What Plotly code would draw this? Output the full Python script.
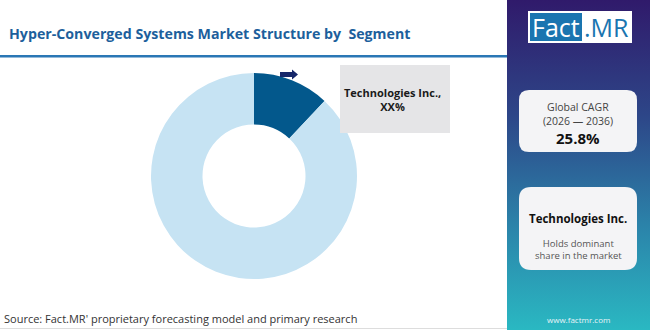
import plotly.graph_objects as go

# ---- data ----
segments = ["Technologies Inc.", "Others"]
shares = [12, 88]
slice_colors = ["#03588c", "#c6e3f3"]
title_text = "Hyper-Converged Systems Market Structure by  Segment"
source_text = "Source: Fact.MR' proprietary forecasting model and primary research"
callout_text = "Technologies Inc.,<br>XX%"
cagr_label = "Global CAGR"
cagr_period = "(2026 \u2014 2036)"
cagr_value = "25.8%"
leader_name = "Technologies Inc."
leader_desc = "Holds dominant<br>share in the market"

W, H = 650, 330
FONT = "Open Sans"

fig = go.Figure()

# gradient side panel
fig.add_trace(go.Scatter(
    x=[507, 650, 650, 507, 507], y=[0, 0, 330, 330, 0],
    mode="lines", line=dict(width=0), fill="toself",
    fillgradient=dict(type="vertical",
                      colorscale=[[0, "#2ab8c2"], [0.3, "#2b86ab"], [0.65, "#2d4688"], [1, "#301a6b"]]),
    hoverinfo="skip", showlegend=False,
))

# donut
fig.add_trace(go.Pie(
    labels=segments, values=shares, hole=0.5, sort=False, direction="clockwise",
    rotation=0, marker=dict(colors=slice_colors, line=dict(width=0)),
    textinfo="none", hoverinfo="label+percent", showlegend=False,
    domain=dict(x=[(254 - 103) / W, (254 + 103) / W], y=[1 - (176 + 103) / H, 1 - (176 - 103) / H]),
))

def rrect(x0, y0, x1, y1, r):
    return (f"M{x0+r},{y0} L{x1-r},{y0} Q{x1},{y0} {x1},{y0+r} L{x1},{y1-r} Q{x1},{y1} {x1-r},{y1} "
            f"L{x0+r},{y1} Q{x0},{y1} {x0},{y1-r} L{x0},{y0+r} Q{x0},{y0} {x0+r},{y0} Z")

shapes = [
    # title underline
    dict(type="rect", x0=0, x1=507, y0=55, y1=57.5, fillcolor="#2a77b5", line=dict(width=0)),
    # bottom thin line
    dict(type="line", x0=0, x1=507, y0=328.5, y1=328.5, line=dict(color="#dddddd", width=1)),
    # callout box
    dict(type="rect", x0=340, x1=450, y0=65, y1=133, fillcolor="#e5e5e7", line=dict(width=0), layer="above"),
    # arrow
    dict(type="path", path="M280,72 L292,72 L292,69.5 L298,74.5 L292,79.5 L292,77 L280,77 Z",
         fillcolor="#16276a", line=dict(width=0), layer="above"),
    # logo
    dict(type="rect", x0=528, x1=632, y0=11, y1=43, fillcolor="white", line=dict(width=0), layer="above"),
    dict(type="rect", x0=530, x1=582, y0=13, y1=41, fillcolor="#1a75b0", line=dict(width=0), layer="above"),
    # cards
    dict(type="path", path=rrect(519, 90, 637, 152, 10), fillcolor="#f4f4f6", line=dict(width=0), layer="above"),
    dict(type="path", path=rrect(519, 187, 637, 270, 12), fillcolor="#f4f4f6", line=dict(width=0), layer="above"),
]

ann = []
def t(x, y, text, size, color, bold=False, xanchor="center", family=FONT):
    ann.append(dict(x=x, y=y, xref="x", yref="y", text=f"<b>{text}</b>" if bold else text,
                    showarrow=False, xanchor=xanchor, yanchor="middle",
                    font=dict(size=size, color=color, family=family)))

t(7, 33, title_text, 14.2, "#1d5f9c", bold=True, xanchor="left")
t(2, 318, source_text, 11, "#333333", xanchor="left")
t(392, 99, callout_text, 11, "#1a1a1a", bold=True)
t(556, 27, "Fact", 25, "white")
t(606, 27, ".MR", 25, "#1a75b0")
t(578, 107, cagr_label, 10.5, "#444444")
t(578, 121, cagr_period, 10.5, "#444444")
t(578, 138, cagr_value, 15, "#111111", bold=True)
t(578, 218, leader_name, 11.5, "#111111", bold=True)
t(578, 249, leader_desc, 9.5, "#555555")
t(578, 319, "www.factmr.com", 8, "#e8f4f8")

fig.update_layout(
    width=W, height=H, margin=dict(l=0, r=0, t=0, b=0),
    paper_bgcolor="white", plot_bgcolor="rgba(0,0,0,0)",
    xaxis=dict(range=[0, W], visible=False, fixedrange=True, domain=[0, 1]),
    yaxis=dict(range=[H, 0], visible=False, fixedrange=True, domain=[0, 1]),
    shapes=shapes, annotations=ann,
)

fig.write_html("out.html")
